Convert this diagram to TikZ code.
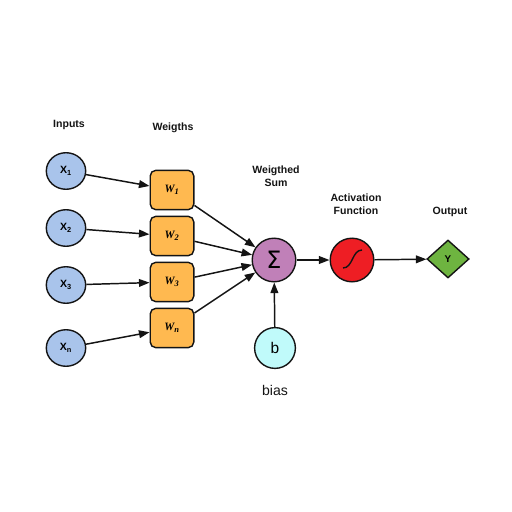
\documentclass[tikz,border=0pt]{standalone}
\usepackage{fontspec}
\setmainfont{Liberation Sans}
\newfontfamily\wfont{Liberation Serif}
\newfontfamily\sigmafont{DejaVu Sans}
\usetikzlibrary{positioning,arrows.meta,shapes.geometric}
\definecolor{colorinput}  {RGB}{169,196,235}
\definecolor{colorweight} {RGB}{255,185,80}
\definecolor{colorsum}    {RGB}{192,128,184}
\definecolor{coloract}    {RGB}{238,30,36}
\definecolor{colorout}    {RGB}{110,180,64}
\definecolor{colorbias}   {RGB}{192,250,250}
\definecolor{colortext}   {RGB}{20,20,20}

\begin{document}
\begin{tikzpicture}[
    x=0.025cm, y=-0.025cm,
    node distance = 1em,
    font={\fontsize{7.5}{9}\selectfont},
    base/.style={draw=colortext,line width=1pt,inner sep=0pt},
    inputnode/.style={base,circle,fill=colorinput,minimum width=28pt,minimum height=26pt,ellipse,font={\fontsize{7.5}{9}\selectfont\bfseries}},
    weightnode/.style={base,rectangle,rounded corners=4pt,fill=colorweight,minimum width=31pt,minimum height=28pt},
    bignode/.style={base,circle,minimum size=31pt},
    txt/.style={text=colortext,font={\fontsize{7.5}{9}\selectfont\bfseries},align=center},
    wtxt/.style={font={\fontsize{8}{9}\wfont\bfseries\itshape}},
    conn/.style={-{Triangle[length=7.5pt,width=5.5pt]},line width=1.05pt,draw=colortext},
]
    \useasboundingbox (0,0) rectangle (512,512);

    % Nodes
    \node[inputnode] (x1) at (66,171) {X\textsubscript{1}};
    \node[inputnode] (x2) at (66,228) {X\textsubscript{2}};
    \node[inputnode] (x3) at (66,285) {X\textsubscript{3}};
    \node[inputnode] (xn) at (66,348) {X\textsubscript{n}};
    \node[weightnode,wtxt] (w1) at (172,190) {W\textsubscript{1}};
    \node[weightnode,wtxt] (w2) at (172,236) {W\textsubscript{2}};
    \node[weightnode,wtxt] (w3) at (172,282) {W\textsubscript{3}};
    \node[weightnode,wtxt] (wn) at (172,328) {W\textsubscript{n}};
    \node[bignode,fill=colorsum,font={\fontsize{17}{17}\sigmafont}] (sum) at (274,260) {Σ};
    \node[bignode,fill=coloract] (act) at (352,260) {};
    \node[base,diamond,fill=colorout,minimum width=30pt,minimum height=27pt,font={\fontsize{7}{8}\selectfont\bfseries}] (out) at (448,259) {Y};
    \node[base,circle,fill=colorbias,minimum size=29pt,font={\fontsize{11}{12}\selectfont}] (bias) at (275,348) {b};

    % sigmoid
    \draw[line width=1pt,colortext] (343,268) .. controls (353,268) and (352,250) .. (362,250);

    % Text
    \node[txt] (inputstxt)  at (69,125)  {Inputs};
    \node[txt] (weightstxt) at (173,128) {Weigths};
    \node[txt] (sumtxt)     at (276,176) {Weigthed\\Sum};
    \node[txt] (acttxt)     at (356,204) {Activation\\Function};
    \node[txt] (outtxt)     at (450,212) {Output};
    \node[text=colortext,font={\fontsize{10}{11}\selectfont},below=0.8em of bias] (biastxt) {bias};

    % Arrows
    \draw[conn] (x1) -- (w1);
    \draw[conn] (x2) -- (w2);
    \draw[conn] (x3) -- (w3);
    \draw[conn] (xn) -- (wn);
    \draw[conn] (w1) -- (sum);
    \draw[conn] (w2) -- (sum);
    \draw[conn] (w3) -- (sum);
    \draw[conn] (wn) -- (sum);
    \draw[conn] (bias) -- (sum);
    \draw[conn] (sum) -- (act);
    \draw[conn] (act) -- (out);

\end{tikzpicture}
\end{document}
